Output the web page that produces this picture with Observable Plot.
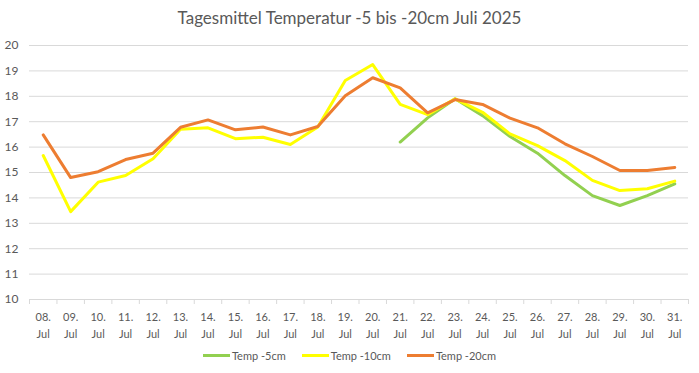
<!DOCTYPE html>
<html><head><meta charset="utf-8">
<script src="https://cdn.jsdelivr.net/npm/d3@7"></script>
<script src="https://cdn.jsdelivr.net/npm/@observablehq/plot@0.6"></script>
<style>
body{margin:0;background:#fff;font-family:Lato,"Open Sans",sans-serif;color:#595959;width:699px;height:373px;overflow:hidden}
#title{height:35px;line-height:36px;text-align:center;font-size:17px;color:#595959}
#legend{display:flex;justify-content:center;gap:16px;font-size:11px;margin-top:9px;margin-left:0px}
.item{display:flex;align-items:center;gap:2px}
.sw{width:27px;height:3px;display:inline-block}
</style></head><body>
<div id="title">Tagesmittel Temperatur -5 bis -20cm Juli 2025</div>
<div id="chart"></div>
<div id="legend"></div>
<script>
const days = ["08.","09.","10.","11.","12.","13.","14.","15.","16.","17.","18.","19.","20.","21.","22.","23.","24.","25.","26.","27.","28.","29.","30.","31."];
const month = "Jul";
const temp5 = [null,null,null,null,null,null,null,null,null,null,null,null,null,16.2,17.15,17.9,17.24,16.42,15.76,14.88,14.09,13.7,14.09,14.55];
const temp10 = [15.67,13.46,14.62,14.88,15.54,16.7,16.76,16.33,16.39,16.1,16.79,18.62,19.25,17.68,17.28,17.9,17.37,16.52,16.06,15.47,14.69,14.29,14.36,14.66];
const temp20 = [16.48,14.8,15.03,15.51,15.76,16.78,17.07,16.68,16.79,16.48,16.81,18.02,18.73,18.33,17.35,17.87,17.68,17.14,16.76,16.13,15.63,15.08,15.08,15.2];
const seriesNames = ["Temp -5cm","Temp -10cm","Temp -20cm"];
const seriesColors = ["#92D050","#FFFF00","#ED7D31"];
const yTicks = [10,11,12,13,14,15,16,17,18,19,20];

const seriesVals = [temp5, temp10, temp20];
const rows = [];
seriesVals.forEach((vals, s) => vals.forEach((v, i) => rows.push({i, v, s: seriesNames[s]})));
const idx = days.map((d, i) => i);
const bounds = days.map((d, i) => i - 0.5).concat([days.length - 0.5]);

const plot = Plot.plot({
  width: 699, height: 305,
  marginLeft: 29, marginRight: 11, marginTop: 10, marginBottom: 41,
  style: {fontFamily: 'Lato,"Open Sans",sans-serif', color: "#595959", background: "#fff"},
  x: {type: "linear", domain: [-0.5, days.length - 0.5]},
  y: {domain: [10, 20]},
  color: {domain: seriesNames, range: seriesColors},
  marks: [
    Plot.gridY(yTicks.filter(t => t > 10), {stroke: "#d9d9d9", strokeOpacity: 1}),
    Plot.ruleY([10], {stroke: "#d9d9d9"}),
    Plot.axisY({ticks: yTicks, tickSize: 0, tickPadding: 11, fontSize: 12, fill: "#595959", label: null}),
    Plot.axisX({ticks: bounds, tickSize: 5, tickFormat: () => "", stroke: "#d9d9d9", label: null}),
    Plot.axisX({ticks: idx, tickSize: 0, tickPadding: 9, tickFormat: i => days[i] + "\n" + month, fontSize: 11, fill: "#595959", label: null, lineHeight: 1.55}),
    Plot.line(rows, {x: "i", y: "v", z: "s", stroke: "s", strokeWidth: 3, curve: "linear", strokeLinejoin: "round", strokeLinecap: "round"})
  ]
});
document.getElementById("chart").appendChild(plot);

const leg = document.getElementById("legend");
seriesNames.forEach((n, k) => {
  const d = document.createElement("div"); d.className = "item";
  d.innerHTML = `<span class="sw" style="background:${seriesColors[k]}"></span><span>${n}</span>`;
  leg.appendChild(d);
});
</script>
</body></html>
